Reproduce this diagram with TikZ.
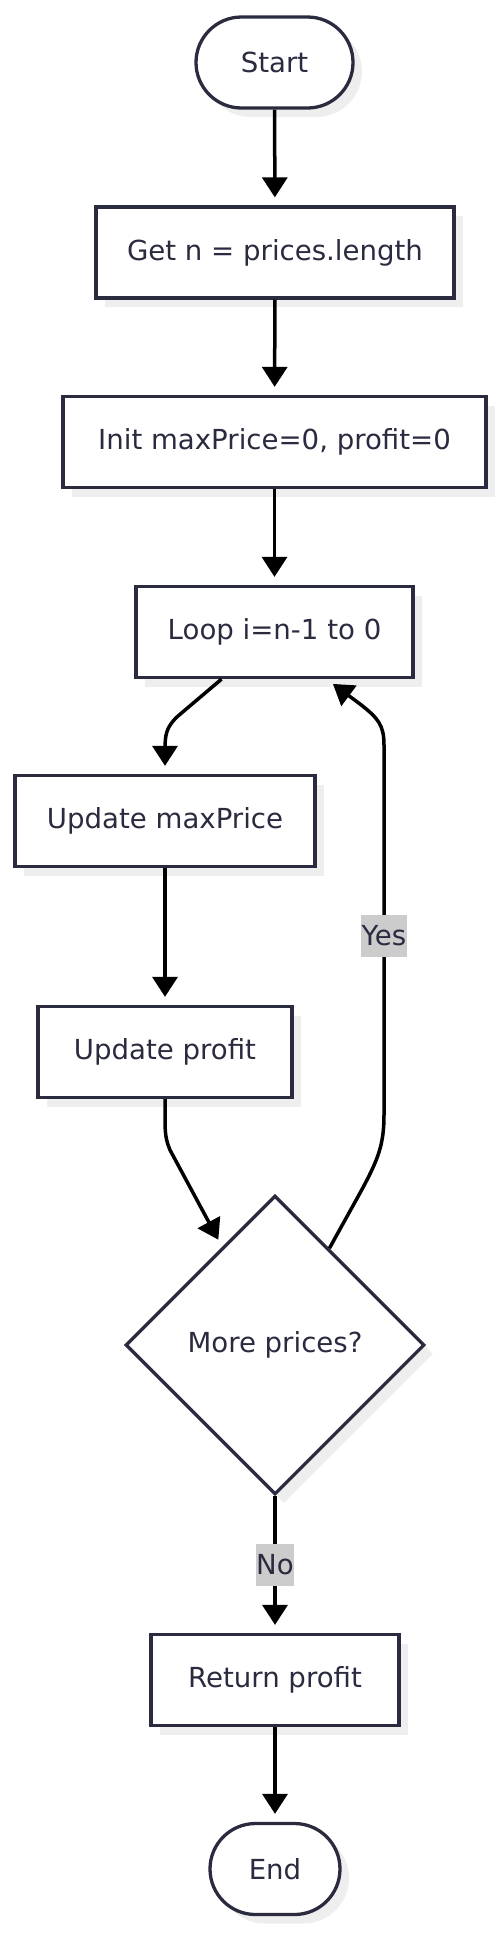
\documentclass[tikz,border=0pt]{standalone}
\usepackage{fontspec}
\setmainfont{DejaVu Sans}
\usepackage{tikz}
\usepackage{xcolor}
\usetikzlibrary{arrows.meta,shapes.geometric,shapes.misc,shadows,calc}
\definecolor{vnavy}{HTML}{2B2B40}
\definecolor{vshadow}{HTML}{EEEEEE}
\definecolor{vlabel}{HTML}{CCCCCC}

\tikzset{
	box/.style={draw=vnavy, line width=3.3pt, fill=white, text=vnavy, minimum height=91pt, inner sep=0pt,
		font=\fontsize{27.6}{32}\selectfont,
		drop shadow={shadow xshift=9pt, shadow yshift=-9pt, fill=vshadow, opacity=1}},
	term/.style={box, rounded rectangle},
	decision/.style={box, diamond, aspect=1, minimum width=299pt, minimum height=299pt},
	edge/.style={line width=3.5pt, -{Triangle[length=20pt,width=25pt]}, shorten >=8pt},
	lbl/.style={fill=vlabel, text=vnavy, inner xsep=0.5pt, inner ysep=0pt, minimum height=42pt,
		font=\fontsize{27.6}{32}\selectfont},
}

\begin{document}
\begin{tikzpicture}[x=1pt, y=-1pt]
		\useasboundingbox (0,0) rectangle (501,1933);
		\node[term, minimum width=157pt] (start) at (274.5,62.5) {Start};
		\node[box, minimum width=358pt] (getn) at (275,252.5) {Get n = prices.length};
		\node[box, minimum width=423pt] (init) at (274.5,442) {Init maxPrice=0, profit=0};
		\node[box, minimum width=277pt] (loop) at (274.5,632) {Loop i=n-1 to 0};
		\node[box, minimum width=300pt] (maxp) at (165,821) {Update maxPrice};
		\node[box, minimum width=254pt] (prof) at (165,1052) {Update profit};
		\node[decision] (dec) at (275,1345) {More prices?};
		\node[box, minimum width=248pt] (ret) at (275,1680) {Return profit};
		\node[term, minimum width=130pt] (end) at (275,1869) {End};
		\draw[edge] (start) -- (getn);
		\draw[edge] (getn) -- (init);
		\draw[edge] (init) -- (loop);
		\draw[edge] ([xshift=-53pt]loop.south) -- (178,716) .. controls (166,727) and (165,735) .. (165,750) -- (maxp);
		\draw[edge] (maxp) -- (prof);
		\draw[edge] (prof) -- (165,1118) .. controls (165,1135) and (166,1140) .. (170,1150) -- ($(dec.north)!0.35!(dec.west)$);
		\draw[edge] ($(dec.north)!0.36!(dec.east)$) -- (360,1193) .. controls (378,1160) and (384,1145) .. (384,1115)
			-- (384,745) node[lbl, pos=.484] (yes) {Yes}
			.. controls (384,725) and (378,718) .. (360,704) -- ([xshift=52pt]loop.south);
		\draw[edge] (dec) -- (ret) node[lbl, midway] (no) {No};
		\draw[edge] (ret) -- (end);
\end{tikzpicture}
\end{document}
